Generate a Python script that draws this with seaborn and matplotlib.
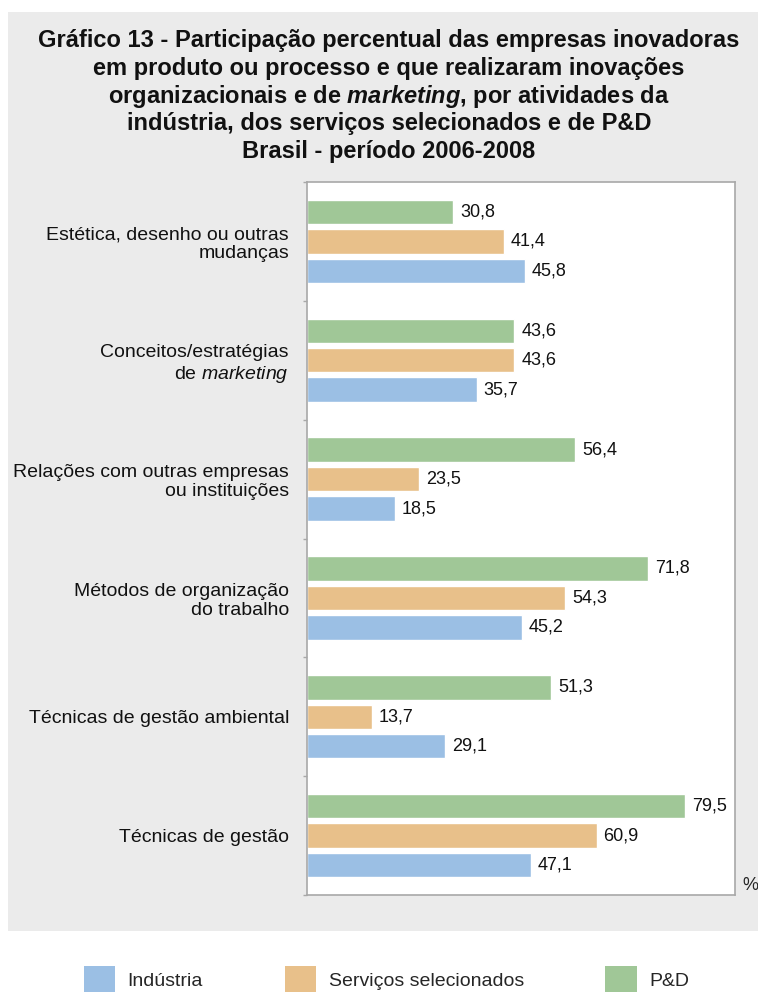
# grafico13.py
# Participação percentual das empresas inovadoras que realizaram inovações
# organizacionais e de marketing, por atividade (Brasil, 2006-2008).

import pandas as pd
import matplotlib.pyplot as plt
import seaborn as sns
from matplotlib.patches import Rectangle, Patch

categorias = [
    "Estética, desenho ou outras\nmudanças",
    "Conceitos/estratégias\nde $\\mathit{marketing}$",
    "Relações com outras empresas\nou instituições",
    "Métodos de organização\ndo trabalho",
    "Técnicas de gestão ambiental",
    "Técnicas de gestão",
]
industria = [45.8, 35.7, 18.5, 45.2, 29.1, 47.1]
servicos = [41.4, 43.6, 23.5, 54.3, 13.7, 60.9]
ped = [30.8, 43.6, 56.4, 71.8, 51.3, 79.5]

series = ["Indústria", "Serviços selecionados", "P&D"]
cores = {"Indústria": "#9bbfe4", "Serviços selecionados": "#e8c08a", "P&D": "#a0c797"}

titulo = [
    "Gráfico 13 - Participação percentual das empresas inovadoras",
    "em produto ou processo e que realizaram inovações",
    "organizacionais e de $\\mathbfit{marketing}$, por atividades da",
    "indústria, dos serviços selecionados e de P&D",
    "Brasil - período 2006-2008",
]

FONTE = "Liberation Sans"


def build_frame():
    rows = []
    for nome, valores in zip(series, [industria, servicos, ped]):
        for cat, v in zip(categorias, valores):
            rows.append({"Categoria": cat, "Serie": nome, "Valor": v})
    return pd.DataFrame(rows)


def plot_chart(data):
    sns.set_style("white")
    plt.rcParams["font.family"] = [FONTE, "DejaVu Sans"]
    plt.rcParams["mathtext.fontset"] = "custom"
    plt.rcParams["mathtext.rm"] = FONTE
    plt.rcParams["mathtext.it"] = FONTE + ":italic"
    plt.rcParams["mathtext.bf"] = FONTE + ":bold"
    plt.rcParams["mathtext.bfit"] = FONTE + ":bold:italic"

    fig = plt.figure(figsize=(7.58, 9.92), dpi=100, facecolor="white")
    # fundo cinza do quadro
    fig.patches.append(Rectangle((8 / 758, 61 / 992), 750 / 758, 919 / 992,
                                 transform=fig.transFigure, facecolor="#ebebeb",
                                 edgecolor="none", zorder=-10))

    ax = fig.add_axes([307 / 758, 97 / 992, 428 / 758, 713 / 992])
    ordem = ["P&D", "Serviços selecionados", "Indústria"]
    sns.barplot(data=data, y="Categoria", x="Valor", hue="Serie", hue_order=ordem,
                order=categorias, palette=cores, orient="h", width=0.744, gap=0.17,
                saturation=1, legend=False, ax=ax)

    for cont in ax.containers:
        labels = [f"{b.get_width():.1f}".replace(".", ",") for b in cont]
        ax.bar_label(cont, labels=labels, padding=5, fontsize=13, color="#111111")

    ax.set_xlim(0, 90)
    ax.set_ylim(len(categorias) - 0.5, -0.5)
    ax.set_xlabel("")
    ax.set_ylabel("")
    ax.set_xticks([])
    ax.set_yticks([i + 0.5 for i in range(-1, len(categorias))], minor=False)
    ax.set_yticklabels([])
    ax.set_yticks(range(len(categorias)), minor=True)
    ax.set_yticklabels(categorias, minor=True, fontsize=14, color="#111111",
                       linespacing=1.15)
    ax.tick_params(axis="y", which="major", length=3, width=1, color="#a8a8a8", left=True)
    ax.tick_params(axis="y", which="minor", length=0, pad=13)
    for s in ax.spines.values():
        s.set_color("#a8a8a8")
        s.set_linewidth(1.2)
        s.set_visible(True)

    fig.text(742 / 758, 1 - 886 / 992, "%", fontsize=13, ha="left", va="center")

    bases = [47, 74.5, 102.5, 130, 158]
    for linha, y in zip(titulo, bases):
        fig.text(389 / 758, 1 - y / 992, linha, fontsize=17, fontweight="bold",
                 ha="center", va="baseline", color="#111111")

    handles = [Patch(facecolor=cores[s], edgecolor="none") for s in series]
    fig.legend(handles, series, loc="center", bbox_to_anchor=(0.51, 1 - 980 / 992),
               ncol=3, frameon=False, fontsize=14, handlelength=1.6, handleheight=1.85,
               handletextpad=0.65, columnspacing=4.2)

    fig.savefig("out.png", dpi=100, facecolor="white")


if __name__ == "__main__":
    data = build_frame()
    plot_chart(data)
